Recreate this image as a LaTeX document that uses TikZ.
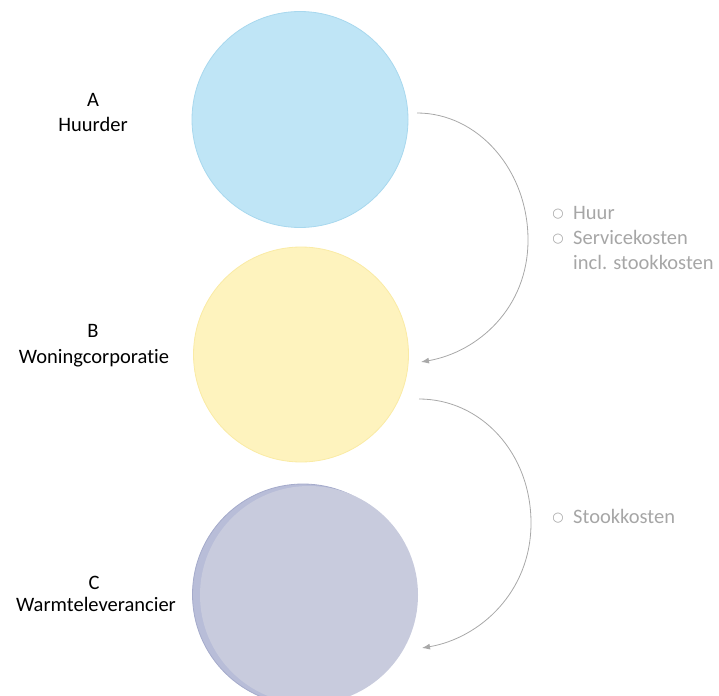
\documentclass[tikz,border=0pt]{standalone}
\usepackage{fontspec}
\setmainfont{Carlito}[Ligatures=NoCommon]
\newfontfamily\bulletfont{DejaVu Sans}
\usetikzlibrary{arrows.meta}
\definecolor{cAfill}{RGB}{191,229,246}
\definecolor{cAdraw}{RGB}{168,216,238}
\definecolor{cBfill}{RGB}{254,243,190}
\definecolor{cBdraw}{RGB}{250,235,165}
\definecolor{cCfill}{RGB}{200,203,221}
\definecolor{cCback}{RGB}{184,189,216}
\definecolor{cCbackdraw}{RGB}{165,171,203}
\definecolor{flowgray}{RGB}{168,168,168}
\definecolor{textgray}{RGB}{166,166,166}
\tikzset{
  bigcircle/.style={circle, inner sep=0pt, minimum size=#1},
  rolelabel/.style={anchor=base, font=\fontsize{20.5}{24}\selectfont, text=black, inner sep=0pt},
  itemtext/.style={anchor=base west, font=\fontsize{20.5}{24}\selectfont, text=textgray, inner sep=0pt},
  itembullet/.style={anchor=center, font=\bulletfont\fontsize{13}{15}\selectfont, text=textgray, inner sep=0pt},
  flow/.style={draw=flowgray, line width=0.8pt, -{Latex[length=8pt,width=6pt]}}
}
\begin{document}
\begin{tikzpicture}[x=1pt,y=-1pt]
\useasboundingbox (0,0) rectangle (719,695);
% circles
\node[bigcircle=216pt, fill=cAfill, draw=cAdraw, line width=0.8pt] (A) at (300,119.5) {};
\node[bigcircle=215pt, fill=cBfill, draw=cBdraw, line width=0.8pt] (B) at (301,354.5) {};
\begin{scope}
\clip (0,0) rectangle (719,695);
\node[bigcircle=221pt, fill=cCback, draw=cCbackdraw, line width=0.8pt] (Cback) at (303,594.5) {};
\node[bigcircle=218pt, fill=cCfill] (C) at (309,595) {};
\end{scope}
% left labels
\node[rolelabel] (lA1) at (93,107) {A};
\node[rolelabel] (lA2) at (93,132) {Huurder};
\node[rolelabel] (lB1) at (93,337) {B};
\node[rolelabel] (lB2) at (94,363) {Woningcorporatie};
\node[rolelabel] (lC1) at (94,589) {C};
\node[rolelabel] (lC2) at (96,611) {Warmteleverancier};
% flow connectors
\coordinate (f1s) at (417,113);
\coordinate (f1m) at (528,240);
\coordinate (f1e) at (421,362);
\coordinate (f2s) at (419,399);
\coordinate (f2m) at (531,523);
\coordinate (f2e) at (422,648);
\draw[flow] (f1s) .. controls (478,113) and (528,170) .. (f1m)
  .. controls (528,308) and (478,352) .. (f1e);
\draw[flow] (f2s) .. controls (481,399) and (531,453) .. (f2m)
  .. controls (531,592) and (480,638) .. (f2e);
% item texts
\node[itembullet] (b1) at (558,214) {○};
\node[itemtext] (t1) at (573,219) {Huur};
\node[itembullet] (b2) at (558,239) {○};
\node[itemtext] (t2) at (573,244) {Servicekosten};
\node[itemtext] (t3) at (573,269) {incl. stookkosten};
\node[itembullet] (b3) at (558,518) {○};
\node[itemtext] (t4) at (573,523) {Stookkosten};
\end{tikzpicture}
\end{document}
